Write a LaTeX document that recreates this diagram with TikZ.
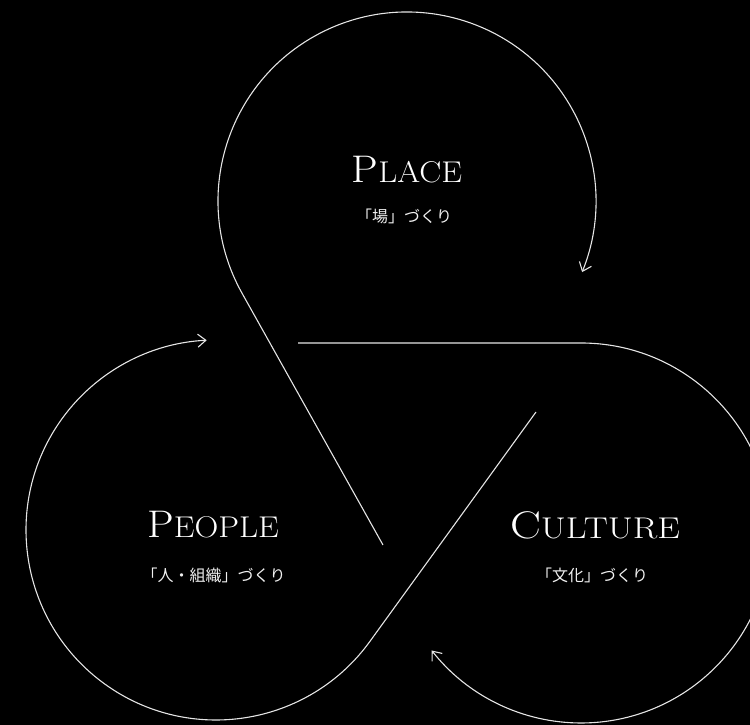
\documentclass[tikz,border=0pt]{standalone}
\usepackage{fontspec}
\newfontfamily\jpfont{Noto Sans CJK JP}
\usetikzlibrary{arrows.meta,calc}
% #1 horizontal scale, #2 letter space, #3 initial, #4 rest
\newcommand\capword[4]{\scalebox{#1}[1]{\addfontfeature{LetterSpace=#2}%
  {\fontsize{38.5}{38}\selectfont #3}{\fontsize{30}{30}\selectfont #4}}}
\begin{document}
\begin{tikzpicture}[x=1pt,y=1pt,
  loop/.style={draw=white!90!black, line width=1.1pt,
    -{Straight Barb[length=8pt,width=13pt,line width=1.1pt]}},
  title/.style={text=white, anchor=base, inner sep=0pt},
  sub/.style={text=white!94!black, font=\jpfont\fontsize{16}{16}\selectfont, inner sep=0pt}]
\fill[black] (0,0) rectangle (750,725);
\useasboundingbox (0,0) rectangle (750,725);
\clip (0,0) rectangle (750,725);
% circle centres
\coordinate (c1) at (407,524);
\coordinate (c2) at (581,192);
\coordinate (c3) at (216,195);
% free ends of the straight parts
\coordinate (p1) at (383,180);
\coordinate (p2) at (298,382);
\coordinate (p3) at (536,313);
% tangent points
\coordinate (t1) at ($(c1)+(209.2:189)$);
\coordinate (t2) at ($(c2)+(90:190)$);
\coordinate (t3) at ($(c3)+(-35.9:190)$);
% loops
\draw[loop] (p1) -- (t1) arc[start angle=209.2, end angle=-22.1, radius=189];
\draw[loop] (p2) -- (t2) arc[start angle=90, end angle=-141.8, radius=190];
\draw[loop] (p3) -- (t3) arc[start angle=-35.9, end angle=-267.2, radius=190];
% labels
\node[title] (place) at (407,542) {\capword{1.1}{2}{P}{LACE}};
\node[sub] (placesub) at (404,509) {「場」づくり};
\node[title] (people) at (213,187) {\capword{1.1}{2}{P}{EOPLE}};
\node[sub] (peoplesub) at (213.5,150) {「人・組織」づくり};
\node[title] (culture) at (595,186) {\capword{1.2}{16}{C}{ULTURE}};
\node[sub] (culturesub) at (592,150) {「文化」づくり};
\end{tikzpicture}
\end{document}
